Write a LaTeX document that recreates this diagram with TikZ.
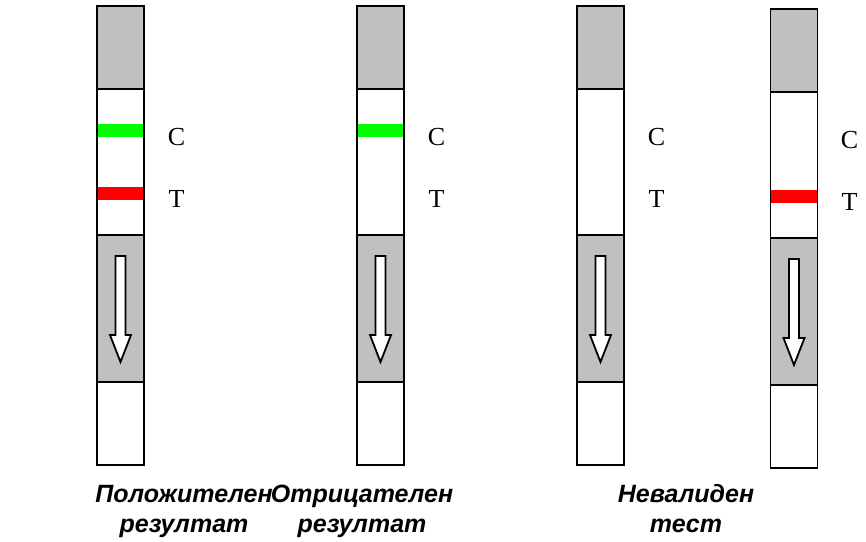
\documentclass[tikz,border=0pt]{standalone}
\usepackage{fontspec}
\setmainfont{Liberation Serif}
\newfontfamily\capfont[Language=Bulgarian]{Liberation Sans}
\begin{document}
\begin{tikzpicture}[x=1pt,y=-1pt,
  outline/.style={draw=black,line width=1.8pt},
  flowarrow/.style={draw=black,line width=1.8pt,fill=white,line join=miter},
  lineletter/.style={font=\fontsize{26}{26}\selectfont,inner sep=0pt},
  caption/.style={font=\capfont\bfseries\itshape\fontsize{25}{30}\selectfont,inner sep=0pt,anchor=base}]
\definecolor{padgrey}{RGB}{192,192,192}
\definecolor{ctrlgreen}{RGB}{0,255,0}
\definecolor{testred}{RGB}{255,0,0}
\useasboundingbox (0,0) rectangle (866,541);

% one strip: #1 = left edge, #2 = vertical shift
\newcommand\teststrip[2]{%
  \begin{scope}[yshift=-#2pt]
    \fill[padgrey] (#1,6) rectangle ++(47,83);
    \fill[padgrey] (#1,235) rectangle ++(47,147);
    \draw[outline] (#1,6) rectangle ++(47,459);
    \draw[outline] (#1,89) -- ++(47,0);
    \draw[outline] (#1,235) -- ++(47,0);
    \draw[outline] (#1,382) -- ++(47,0);
    \draw[flowarrow] (#1+18.5,256) -- (#1+28.5,256) -- (#1+28.5,335)
      -- (#1+34,335) -- (#1+23.5,362) -- (#1+13,335) -- (#1+18.5,335) -- cycle;
  \end{scope}}

\teststrip{97}{0}
\teststrip{357}{0}
\teststrip{577}{0}
\teststrip{770.5}{3}

% coloured lines on the reading window
\fill[ctrlgreen] (97.9,124) rectangle (143.1,137);
\fill[testred]   (97.9,187) rectangle (143.1,200);
\fill[ctrlgreen] (357.9,124) rectangle (403.1,137);
\fill[testred]   (771.4,190) rectangle (816.6,203);

% line labels
\node[lineletter] (c1) at (176.5,137) {C};
\node[lineletter] (t1) at (176.5,199) {T};
\node[lineletter] (c2) at (436.5,137) {C};
\node[lineletter] (t2) at (436.5,199) {T};
\node[lineletter] (c3) at (656.5,137) {C};
\node[lineletter] (t3) at (656.5,199) {T};
\node[lineletter] (c4) at (849.5,140) {C};
\node[lineletter] (t4) at (849.5,202) {T};

% captions, two lines each
\node[caption] (cap1a) at (184,502) {Положителен};
\node[caption] (cap1b) at (184,532) {резултат};
\node[caption] (cap2a) at (362,502) {Отрицателен};
\node[caption] (cap2b) at (362,532) {резултат};
\node[caption] (cap3a) at (686,502) {Невалиден};
\node[caption] (cap3b) at (686,532) {тест};
\end{tikzpicture}
\end{document}
